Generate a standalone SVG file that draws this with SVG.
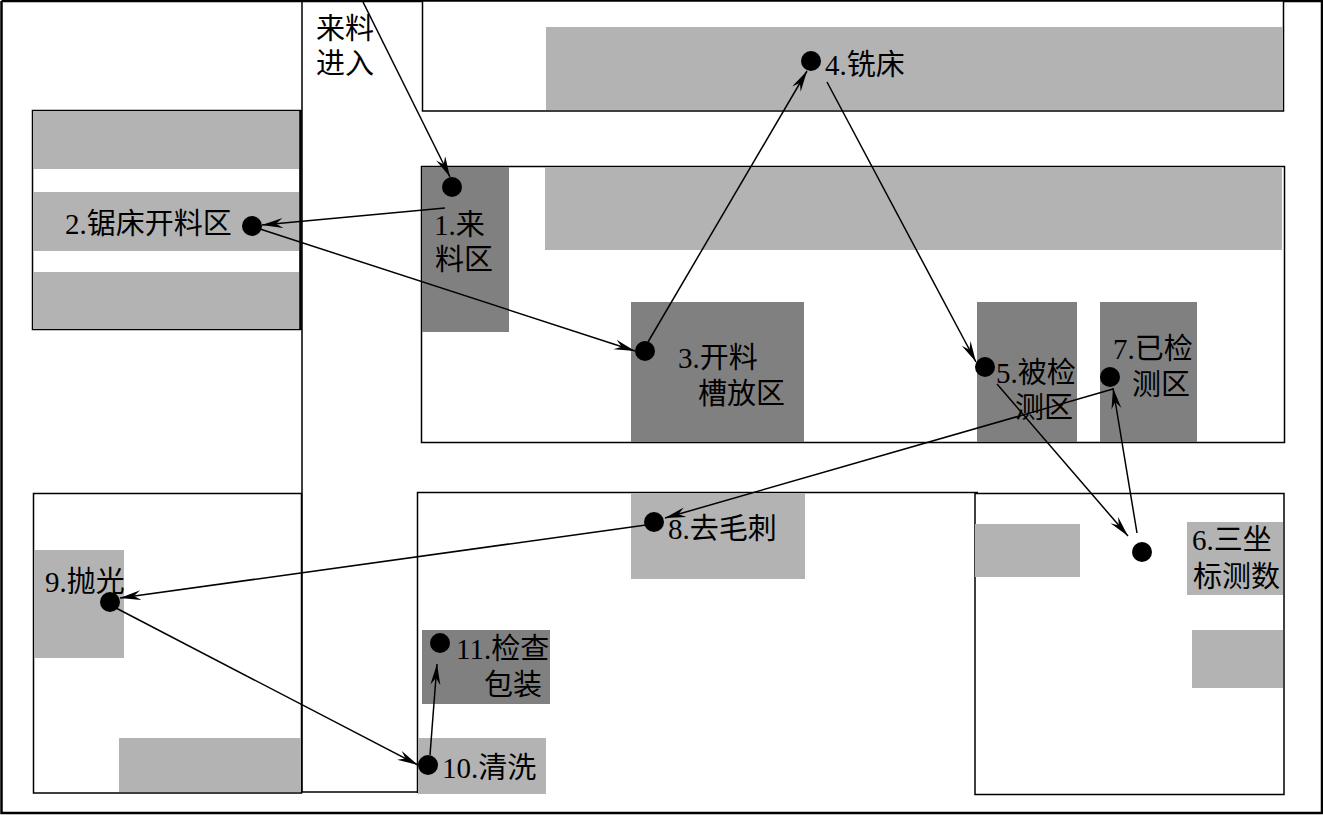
<svg xmlns="http://www.w3.org/2000/svg" width="1323" height="815" viewBox="0 0 1323 815">
<style>
.w{fill:#fff;stroke:#000;stroke-width:1.5}
.l{fill:#b3b3b3}
.d{fill:#808080}
.n{fill:#000}
text{font-family:"Liberation Serif","Noto Sans CJK SC",serif;font-size:29px;fill:#000}
.c line{stroke:#000;stroke-width:1.5;fill:none;marker-end:url(#a)}
.f{fill:none;stroke:#000;stroke-width:1.5}
.t{fill:none;stroke:#000;stroke-width:2.500}
</style>
<defs><marker id="a" markerUnits="userSpaceOnUse" markerWidth="24" markerHeight="12" refX="21" refY="5" orient="auto"><path d="M0 0L21 5L0 10L7 5Z" fill="#000"/></marker></defs>
<rect width="1323" height="815" fill="#fff"/>
<g id="frame">
<path class="t" d="M1.500 1H1322V813H1.500V1"/>
<path class="f" d="M302 0V792M302 792H418"/>
<rect class="w" x="422.500" y="1" width="861" height="110"/>
<rect class="l" x="546" y="27" width="737" height="83"/>
<rect class="w" x="421.500" y="166.500" width="863" height="276"/>
<rect class="l" x="545" y="167" width="737" height="83"/>
<rect class="w" x="32.500" y="110.500" width="268" height="219"/>
<rect class="l" x="33" y="111" width="266" height="58"/>
<rect class="l" x="33" y="192" width="266" height="59"/>
<rect class="l" x="33" y="272" width="266" height="57"/>
<path class="t" d="M300.500 110V330"/>
<rect class="w" x="33.500" y="493.500" width="268" height="299.500"/>
<rect class="l" x="34" y="550" width="90" height="108"/>
<rect class="l" x="119" y="738" width="182" height="54"/>
<path class="f" d="M417.500 793V492.500H978"/>
<rect class="w" x="975" y="493.500" width="309" height="301"/>
<rect class="l" x="975" y="524" width="105" height="53"/>
<rect class="l" x="1187" y="522" width="96" height="73"/>
<rect class="l" x="1192" y="630" width="91" height="58"/>
</g>
<g id="n1"><rect class="d" x="422" y="167" width="87" height="165"/><circle class="n" cx="452" cy="187" r="10"/><text x="434" y="235">1.来</text><text x="435" y="270">料区</text></g>
<g id="n2"><circle class="n" cx="252" cy="226" r="10"/><text x="65" y="234">2.锯床开料区</text></g>
<g id="n3"><rect class="d" x="631" y="302" width="173" height="140"/><circle class="n" cx="645" cy="351" r="10"/><text x="678" y="368">3.开料</text><text x="698" y="404">槽放区</text></g>
<g id="n4"><circle class="n" cx="811" cy="61" r="10"/><text x="825" y="75">4.铣床</text></g>
<g id="n5"><rect class="d" x="977" y="302" width="100" height="140"/><circle class="n" cx="985" cy="367" r="10"/><text x="996" y="383">5.被检</text><text x="1015" y="418">测区</text></g>
<g id="n6"><circle class="n" cx="1142" cy="552" r="10"/><text x="1192" y="550">6.三坐</text><text x="1193" y="587">标测数</text></g>
<g id="n7"><rect class="d" x="1100" y="302" width="97" height="140"/><circle class="n" cx="1110" cy="377" r="10"/><text x="1113" y="359">7.已检</text><text x="1132" y="395">测区</text></g>
<g id="n8"><rect class="l" x="631" y="493" width="174" height="86"/><circle class="n" cx="654" cy="522" r="10"/><text x="668" y="539">8.去毛刺</text></g>
<g id="n9"><circle class="n" cx="110" cy="602" r="10"/><text x="45" y="592">9.抛光</text></g>
<g id="n10"><rect class="l" x="418" y="738" width="128" height="56"/><circle class="n" cx="428" cy="765" r="10"/><text x="442" y="778">10.清洗</text></g>
<g id="n11"><rect class="d" x="422" y="630" width="128" height="74"/><circle class="n" cx="440" cy="643" r="10"/><text x="456" y="659">11.检查</text><text x="484" y="695">包装</text></g>
<g id="source"><text x="316" y="39">来料</text><text x="316" y="74">进入</text></g>
<g id="connectors" class="c">
<line x1="362" y1="0" x2="450" y2="177"/>
<line x1="445" y1="208" x2="262" y2="225"/>
<line x1="260" y1="229" x2="635" y2="351"/>
<line x1="648" y1="342" x2="807" y2="71"/>
<line x1="827" y1="82" x2="976" y2="362"/>
<line x1="997" y1="384" x2="1128" y2="536"/>
<line x1="1137" y1="533" x2="1113" y2="388"/>
<line x1="1113" y1="389" x2="665" y2="518"/>
<line x1="646" y1="525" x2="120" y2="598"/>
<line x1="116" y1="608" x2="418" y2="765"/>
<line x1="430" y1="755" x2="437" y2="664"/>
</g>
</svg>
